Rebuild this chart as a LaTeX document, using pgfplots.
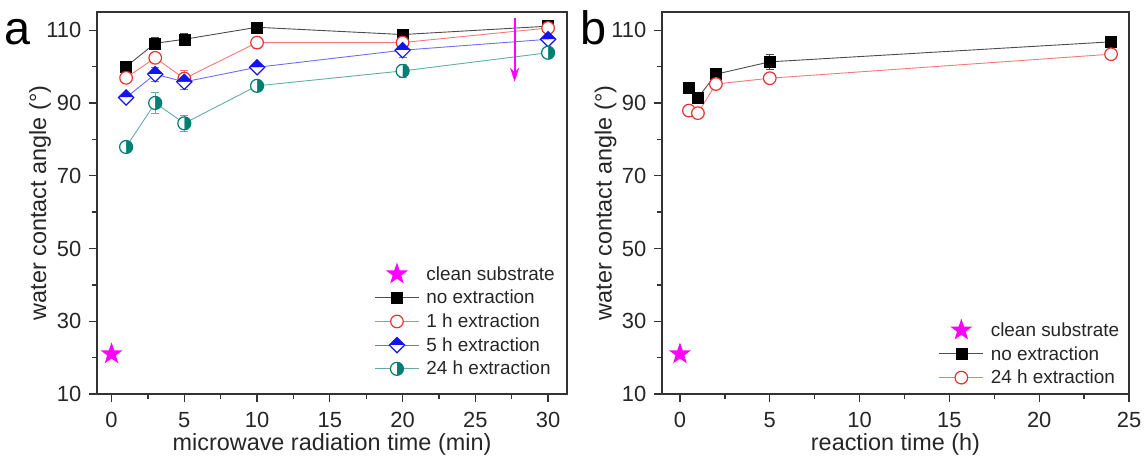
\documentclass[border=0pt]{standalone}
\usepackage{fontspec}
\setmainfont{Liberation Sans}
\usepackage{pgfplots}
\pgfplotsset{compat=1.18}
\usetikzlibrary{arrows.meta}
\definecolor{mred}{RGB}{232,50,50}
\definecolor{lred}{RGB}{245,120,120}
\definecolor{mblue}{RGB}{20,20,240}
\definecolor{lblue}{RGB}{110,110,245}
\definecolor{mteal}{RGB}{0,128,115}
\definecolor{lteal}{RGB}{100,172,165}
\definecolor{mmag}{RGB}{255,0,255}

\pgfdeclareplotmark{fstar}{%
  \pgfpathmoveto{\pgfpointpolar{90}{\pgfplotmarksize}}%
  \pgfpathlineto{\pgfpointpolar{126}{0.40\pgfplotmarksize}}%
  \pgfpathlineto{\pgfpointpolar{162}{\pgfplotmarksize}}%
  \pgfpathlineto{\pgfpointpolar{198}{0.40\pgfplotmarksize}}%
  \pgfpathlineto{\pgfpointpolar{234}{\pgfplotmarksize}}%
  \pgfpathlineto{\pgfpointpolar{270}{0.40\pgfplotmarksize}}%
  \pgfpathlineto{\pgfpointpolar{306}{\pgfplotmarksize}}%
  \pgfpathlineto{\pgfpointpolar{342}{0.40\pgfplotmarksize}}%
  \pgfpathlineto{\pgfpointpolar{18}{\pgfplotmarksize}}%
  \pgfpathlineto{\pgfpointpolar{54}{0.40\pgfplotmarksize}}%
  \pgfpathclose
  \pgfusepathqfill
}
\pgfdeclareplotmark{hdiam}{%
  \pgfpathmoveto{\pgfqpoint{-\pgfplotmarksize}{0pt}}%
  \pgfpathlineto{\pgfqpoint{0pt}{\pgfplotmarksize}}%
  \pgfpathlineto{\pgfqpoint{\pgfplotmarksize}{0pt}}%
  \pgfpathclose
  \pgfusepathqfill
  \begin{pgfscope}\pgfsetfillcolor{white}%
  \pgfpathmoveto{\pgfqpoint{-\pgfplotmarksize}{0pt}}%
  \pgfpathlineto{\pgfqpoint{0pt}{-\pgfplotmarksize}}%
  \pgfpathlineto{\pgfqpoint{\pgfplotmarksize}{0pt}}%
  \pgfpathclose
  \pgfusepathqfill
  \end{pgfscope}%
  \pgfpathmoveto{\pgfqpoint{0pt}{\pgfplotmarksize}}%
  \pgfpathlineto{\pgfqpoint{\pgfplotmarksize}{0pt}}%
  \pgfpathlineto{\pgfqpoint{0pt}{-\pgfplotmarksize}}%
  \pgfpathlineto{\pgfqpoint{-\pgfplotmarksize}{0pt}}%
  \pgfpathclose
  \pgfusepathqstroke
}
\pgfdeclareplotmark{hcirc}{%
  \pgfpathmoveto{\pgfqpoint{0pt}{\pgfplotmarksize}}%
  \pgfpatharc{90}{-90}{\pgfplotmarksize}%
  \pgfpathclose
  \pgfusepathqfill
  \begin{pgfscope}\pgfsetfillcolor{white}%
  \pgfpathmoveto{\pgfqpoint{0pt}{\pgfplotmarksize}}%
  \pgfpatharc{90}{270}{\pgfplotmarksize}%
  \pgfpathclose
  \pgfusepathqfill
  \end{pgfscope}%
  \pgfpathcircle{\pgfpointorigin}{\pgfplotmarksize}%
  \pgfusepathqstroke
}

\pgfplotsset{
  panel/.style={
    scale only axis, height=382bp,
    ymin=10, ymax=115,
    ytick={10,30,50,70,90,110}, minor ytick={20,40,60,80,100},
    minor x tick num=1,
    tick align=outside, xtick pos=bottom, ytick pos=left,
    major tick length=8bp, minor tick length=5bp,
    axis line style={line width=1.3bp, black!80},
    tick style={line width=1.3bp, black!80},
    tick label style={font=\fontsize{22}{22}\selectfont, black!85, inner sep=1bp},
    xticklabel shift=9bp,
    yticklabel shift=6.5bp,
    /pgf/number format/assume math mode=true,
    ylabel={water contact angle (°)},
    every axis y label/.style={at={(axis description cs:-0.121,0.5)}, rotate=90, anchor=center,
      inner sep=1bp, font=\fontsize{23.5}{23.5}\selectfont, text=black!85},
    every axis x label/.style={at={(axis description cs:0.5,-0.131)}, anchor=center,
      inner sep=1bp, font=\fontsize{23.5}{23.5}\selectfont, text=black!85},
    legend style={draw=none, fill=none, font=\fontsize{19}{19}\selectfont, anchor=south east,
      row sep=4.5bp, text=black!85,
      /tikz/every odd column/.append style={column sep=5bp}},
    legend cell align=left,
    legend image code/.code={\draw[mark repeat=2,mark phase=2,##1] plot coordinates {(0bp,0bp)(22bp,0bp)(44bp,0bp)};},
    clip=false,
  },
  eb/.style={error bars/.cd, y dir=both, y explicit,
    error bar style={line width=0.8bp},
    error mark options={rotate=90, mark size=4bp, line width=0.8bp}},
  sstar/.style={only marks, mark=fstar, mark size=11.5bp, color=mmag},
  sblack/.style={color=black!70, line width=0.9bp, mark=square*, mark size=5.5bp,
    mark options={fill=black, draw=black, line width=0.5bp}},
  sred/.style={color=lred, line width=0.9bp, mark=*, mark size=6.3bp,
    mark options={fill=white, draw=mred, line width=1.2bp}},
  sblue/.style={color=lblue, line width=0.9bp, mark=hdiam, mark size=7.6bp,
    mark options={fill=mblue, draw=mblue, line width=1.2bp}},
  steal/.style={color=lteal, line width=0.9bp, mark=hcirc, mark size=6.5bp,
    mark options={fill=mteal, draw=mteal, line width=1.2bp}},
}

\begin{document}
\begin{tikzpicture}
\path[use as bounding box] (0,0) rectangle (1146bp,456bp);
\node[anchor=base west, inner sep=0pt, font=\fontsize{47}{47}\selectfont] at (4bp,411bp) {a};
\node[anchor=base west, inner sep=0pt, font=\fontsize{47}{47}\selectfont] at (580bp,411bp) {b};

\begin{axis}[panel, at={(97bp,62bp)}, anchor=south west, width=470bp,
  xmin=-1, xmax=31.3, xtick={0,5,...,30},
  xlabel={microwave radiation time (min)},
  legend style={at={(axis description cs:0.985,0.035)}}]
\addplot[sstar] coordinates {(0,21)};
\addlegendentry{clean substrate}
\addplot[sblack, eb] table[x=x, y=y, y error=e] {
x y e
1 100.0 0.8
3 106.4 1.5
5 107.5 1.5
10 110.8 0.8
20 108.8 1.5
30 111.1 0.8
};
\addlegendentry{no extraction}
\addplot[sred, eb] table[x=x, y=y, y error=e] {
x y e
1 96.9 1.2
3 102.4 1.2
5 96.7 2.2
10 106.6 1.5
20 106.6 1.2
30 110.6 1.0
};
\addlegendentry{1 h extraction}
\addplot[sblue, eb] table[x=x, y=y, y error=e] {
x y e
1 91.5 0.8
3 97.9 2.0
5 95.8 2.0
10 99.8 1.0
20 104.5 2.0
30 107.5 1.0
};
\addlegendentry{5 h extraction}
\addplot[steal, eb] table[x=x, y=y, y error=e] {
x y e
1 77.9 1.0
3 90.0 2.8
5 84.4 2.2
10 94.7 1.5
20 98.8 1.8
30 103.8 1.0
};
\addlegendentry{24 h extraction}
\draw[mmag, line width=2bp, -{Stealth[length=14bp, width=9bp]}] (axis cs:27.7,113.4) -- (axis cs:27.7,95.8);
\end{axis}

\begin{axis}[panel, at={(662bp,62bp)}, anchor=south west, width=467bp,
  xmin=-1, xmax=25, xtick={0,5,...,25},
  xlabel={reaction time (h)},
  legend style={at={(axis description cs:0.99,0.012)}}]
\addplot[sstar] coordinates {(0,21)};
\addlegendentry{clean substrate}
\addplot[sblack, eb] table[x=x, y=y, y error=e] {
x y e
0.5 94.1 0.8
1 91.4 1.0
2 97.9 1.0
5 101.3 2.0
24 106.8 0.8
};
\addlegendentry{no extraction}
\addplot[sred, eb] table[x=x, y=y, y error=e] {
x y e
0.5 87.9 1.2
1 87.2 1.2
2 95.2 1.2
5 96.8 1.0
24 103.4 0.8
};
\addlegendentry{24 h extraction}
\end{axis}
\end{tikzpicture}
\end{document}
